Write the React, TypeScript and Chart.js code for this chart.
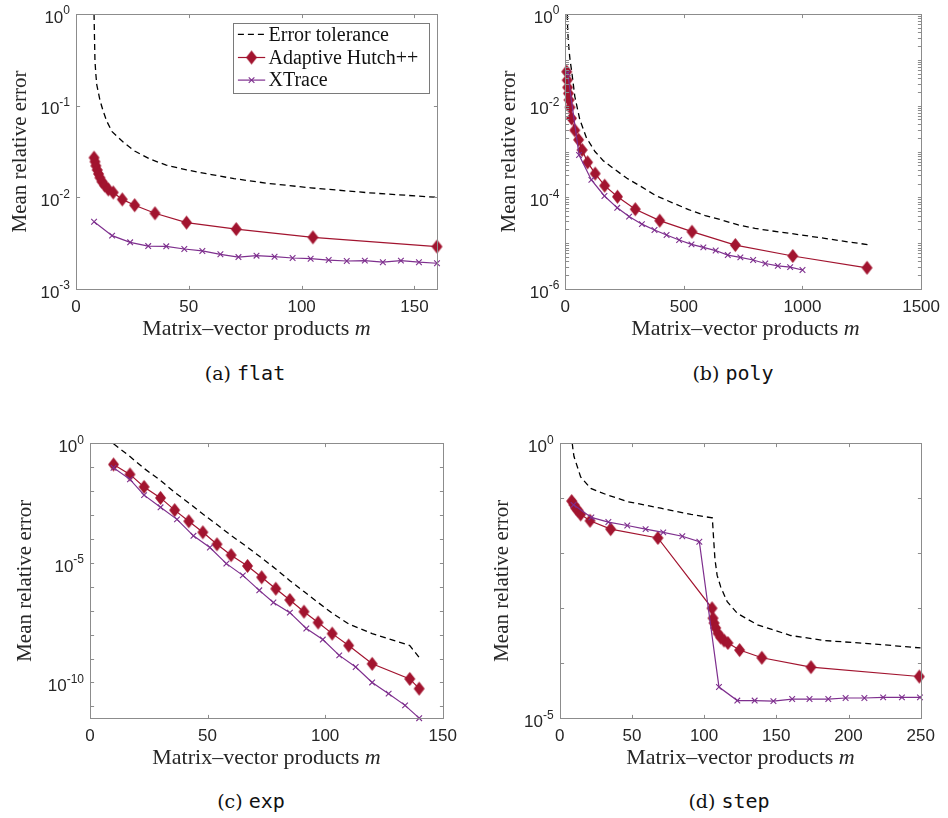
import React, { useEffect, useRef } from 'react';
import { Chart, registerables } from 'chart.js';

Chart.register(...registerables);

const RED = '#A2142F';
const PURPLE = '#7E2F8E';
const AXIS = '#8c8c8c';
const TEXT = '#262626';
const SANS = '"Liberation Sans", Arial, Helvetica, sans-serif';
const SERIF = '"Liberation Serif", "Times New Roman", serif';

const yTitle = 'Mean relative error';
const xTitle = 'Matrix–vector products';
const legendLabels = ['Error tolerance', 'Adaptive Hutch++', 'XTrace'];

// ---------- (a) flat ----------
const flatTolM = [8, 8.2, 8.4, 8.8, 9.2, 10.6, 12, 13.6, 16, 21, 26, 33, 40, 49, 60, 70, 85, 104, 130, 160];
const flatTolV = [1, 0.55, 0.31, 0.22, 0.17, 0.115, 0.088, 0.068, 0.052, 0.04, 0.032, 0.026, 0.0225, 0.0199, 0.0177, 0.016, 0.0142, 0.0127, 0.0112, 0.01];
const flatHutchM = [8, 8.4, 8.8, 9.4, 10, 10.6, 11.5, 12.7, 14.3, 16.5, 20.5, 26, 35, 49, 71, 105, 160];
const flatHutchV = [0.0271, 0.0245, 0.0221, 0.0199, 0.018, 0.0164, 0.0148, 0.0135, 0.0122, 0.0113, 0.0095, 0.0082, 0.0067, 0.0053, 0.0045, 0.00366, 0.0029];
const flatXtM = [8, 16, 24, 32, 40, 48, 56, 64, 72, 80, 88, 96, 104, 112, 120, 128, 136, 144, 152, 160];
const flatXtV = [0.00542, 0.00382, 0.00323, 0.00294, 0.00292, 0.00273, 0.0026, 0.00239, 0.00223, 0.00231, 0.00225, 0.00218, 0.00214, 0.00207, 0.00202, 0.00204, 0.00196, 0.00204, 0.00196, 0.00191];

// ---------- (b) poly ----------
const polyTolM = [8.4, 10, 12.5, 16, 20, 27, 40, 61, 89, 125, 160, 205, 260, 313, 380, 452, 520, 590, 660, 729, 800, 868, 940, 1006, 1100, 1190, 1276];
const polyTolV = [1, 0.45, 0.27, 0.16, 0.1, 0.056, 0.016, 0.005, 0.002, 0.001, 6.3e-4, 4.2e-4, 2.6e-4, 1.8e-4, 1.1e-4, 7.6e-5, 5.4e-5, 4.0e-5, 3.2e-5, 2.5e-5, 2.1e-5, 1.86e-5, 1.66e-5, 1.48e-5, 1.26e-5, 1.07e-5, 9.3e-6];
const polyHutchM = [6, 8, 10, 13, 16, 20, 26, 40, 56, 71, 94, 126, 166, 220, 295, 398, 534, 717, 959, 1272];
const polyHutchV = [0.055, 0.036, 0.025, 0.0185, 0.0133, 0.0092, 0.0053, 0.0029, 0.0018, 0.00108, 5.8e-4, 3.3e-4, 1.8e-4, 1.03e-4, 5.5e-5, 3.1e-5, 1.78e-5, 9.1e-6, 5.25e-6, 2.9e-6];
const polyXtM = [10, 58, 110, 165, 219, 269, 323, 376, 427, 480, 532, 582, 634, 685, 738, 792, 843, 896, 948, 1000];
const polyXtV = [0.051, 8.4e-4, 2.4e-4, 1.07e-4, 5.9e-5, 3.8e-5, 2.6e-5, 1.94e-5, 1.51e-5, 1.17e-5, 9.4e-6, 8.1e-6, 6.9e-6, 5.5e-6, 4.9e-6, 4.3e-6, 3.6e-6, 3.2e-6, 3.0e-6, 2.6e-6];

// ---------- (c) exp ----------
const expTolM = [10, 17, 23, 30, 36, 42, 48, 54, 60, 67, 73, 79, 85, 91, 97, 103, 110, 120, 136, 140];
const expTolV = [0.95, 0.28, 0.089, 0.028, 0.0089, 0.0032, 0.0011, 4.0e-4, 1.4e-4, 4.5e-5, 1.6e-5, 5.6e-6, 1.8e-6, 6.3e-7, 2.2e-7, 7.9e-8, 2.8e-8, 1.1e-8, 3.5e-9, 1.1e-9];
const expHutchM = [10, 17, 23, 30, 36, 42, 48, 54, 60, 67, 73, 79, 85, 91, 97, 103, 110, 120, 136, 140];
const expHutchV = [0.13, 0.05, 0.015, 0.0052, 0.0016, 5.5e-4, 1.9e-4, 6.0e-5, 2.1e-5, 7.4e-6, 2.5e-6, 8.3e-7, 2.8e-7, 9.1e-8, 3.2e-8, 1.1e-8, 3.5e-9, 6.0e-10, 1.4e-10, 5.5e-11];
const expXtM = [10, 17, 23, 30, 37, 44, 51, 58, 65, 72, 78, 85, 92, 99, 106, 113, 120, 127, 134, 140];
const expXtV = [0.095, 0.031, 0.0068, 0.0021, 6.6e-4, 1.35e-4, 4.4e-5, 9.3e-6, 3.0e-6, 7.1e-7, 2.2e-7, 8.3e-8, 1.8e-8, 6.2e-9, 1.35e-9, 4.4e-10, 1.0e-10, 3.4e-11, 1.1e-11, 3.2e-12];

// ---------- (d) step ----------
const stepTolM = [8.7, 9.2, 9.9, 14.5, 21.5, 33, 47, 70, 91, 105.7, 106.5, 107.5, 109, 111.5, 116, 123, 137, 160, 183, 218, 250];
const stepTolV = [1, 0.76, 0.575, 0.245, 0.151, 0.115, 0.087, 0.066, 0.051, 0.044, 0.02, 0.0079, 0.004, 0.00245, 0.00132, 8.1e-4, 5.0e-4, 3.2e-4, 2.6e-4, 2.24e-4, 1.9e-4];
const stepHutchM = [8.3, 9.9, 11.1, 12.7, 14.5, 21, 35.3, 68, 105.5, 106.2, 106.9, 108, 109.6, 111.5, 113.8, 116.5, 124.6, 140, 174, 249];
const stepHutchV = [0.089, 0.076, 0.066, 0.06, 0.051, 0.039, 0.0275, 0.019, 0.001, 6.6e-4, 5.4e-4, 4.4e-4, 3.5e-4, 2.95e-4, 2.6e-4, 2.34e-4, 1.74e-4, 1.26e-4, 8.5e-5, 5.75e-5];
const stepXtM = [9.6, 21.9, 33.7, 46.8, 59.5, 71.7, 84.9, 96.7, 110.3, 123, 135, 148, 161, 173, 186, 198, 211, 224, 237, 249.5];
const stepXtV = [0.076, 0.045, 0.037, 0.032, 0.0275, 0.024, 0.0204, 0.0162, 3.7e-5, 2.1e-5, 2.1e-5, 2.05e-5, 2.24e-5, 2.24e-5, 2.24e-5, 2.34e-5, 2.34e-5, 2.4e-5, 2.4e-5, 2.4e-5];

// ---------- axes ----------
const flatX = { max: 160, step: 50 };
const polyX = { max: 1500, step: 500 };
const expX = { max: 150, step: 50 };
const stepX = { max: 250, step: 50 };
const flatYLabels = [0, -1, -2, -3];
const polyYLabels = [0, -2, -4, -6];
const expYLabels = [0, -5, -10];
const stepYLabels = [0, -5];

const captions = [
  { tag: '(a)', name: 'flat' },
  { tag: '(b)', name: 'poly' },
  { tag: '(c)', name: 'exp' },
  { tag: '(d)', name: 'step' },
];

type PanelCfg = {
  left: number; top: number; w: number; h: number;
  area: { l: number; t: number; r: number; b: number };
  titleCx: number;
  xMax: number; xStep: number;
  yMinExp: number; tickExps: number[]; labelExps: number[]; minor: boolean;
  tolM: number[]; tolV: number[]; hM: number[]; hV: number[]; xM: number[]; xV: number[];
  legend: boolean;
};

const range = (a: number, b: number) => { const r: number[] = []; for (let i = a; i >= b; i--) r.push(i); return r; };

const panels: PanelCfg[] = [
  { left: 0, top: 0, w: 474, h: 320, area: { l: 76, t: 14, r: 437, b: 289 }, titleCx: 20,
    xMax: flatX.max, xStep: flatX.step, yMinExp: -3, tickExps: range(0, -3), labelExps: flatYLabels, minor: false,
    tolM: flatTolM, tolV: flatTolV, hM: flatHutchM, hV: flatHutchV, xM: flatXtM, xV: flatXtV, legend: true },
  { left: 474, top: 0, w: 474, h: 320, area: { l: 91.3, t: 14, r: 452, b: 289 }, titleCx: 35,
    xMax: polyX.max, xStep: polyX.step, yMinExp: -6, tickExps: range(0, -6), labelExps: polyYLabels, minor: true,
    tolM: polyTolM, tolV: polyTolV, hM: polyHutchM, hV: polyHutchV, xM: polyXtM, xV: polyXtV, legend: false },
  { left: 0, top: 420, w: 474, h: 330, area: { l: 90, t: 23.3, r: 442.7, b: 298.3 }, titleCx: 25,
    xMax: expX.max, xStep: expX.step, yMinExp: -11.5, tickExps: range(0, -11), labelExps: expYLabels, minor: false,
    tolM: expTolM, tolV: expTolV, hM: expHutchM, hV: expHutchV, xM: expXtM, xV: expXtV, legend: false },
  { left: 474, top: 420, w: 474, h: 330, area: { l: 85.7, t: 23.3, r: 446.7, b: 298.3 }, titleCx: 28,
    xMax: stepX.max, xStep: stepX.step, yMinExp: -5, tickExps: range(0, -5), labelExps: stepYLabels, minor: false,
    tolM: stepTolM, tolV: stepTolV, hM: stepHutchM, hV: stepHutchV, xM: stepXtM, xV: stepXtV, legend: false },
];

function makeDiamond(w: number, h: number, color: string) {
  const c = document.createElement('canvas');
  c.width = w + 2; c.height = h + 2;
  const ctx = c.getContext('2d')!;
  ctx.fillStyle = color;
  ctx.beginPath();
  ctx.moveTo((w + 2) / 2, 1);
  ctx.lineTo(w + 1, (h + 2) / 2);
  ctx.lineTo((w + 2) / 2, h + 1);
  ctx.lineTo(1, (h + 2) / 2);
  ctx.closePath();
  ctx.fill();
  return c;
}

function drawCross(ctx: CanvasRenderingContext2D, x: number, y: number, r: number, color: string) {
  const d = r * 0.707;
  ctx.save();
  ctx.strokeStyle = color; ctx.lineWidth = 1.1;
  ctx.beginPath();
  ctx.moveTo(x - d, y - d); ctx.lineTo(x + d, y + d);
  ctx.moveTo(x - d, y + d); ctx.lineTo(x + d, y - d);
  ctx.stroke();
  ctx.restore();
}

function Panel({ cfg }: { cfg: PanelCfg }) {
  const ref = useRef<HTMLCanvasElement>(null);
  useEffect(() => {
    const canvas = ref.current!;
    const diamond = makeDiamond(11, 14, RED);
    const mk = (m: number[], v: number[]) => m.map((x, i) => ({ x, y: v[i] }));
    const TL = 3.6;
    const frame = {
      id: 'frame',
      afterDatasetsDraw(chart: any) {
        const { ctx, chartArea: a, scales } = chart;
        const L = Math.round(a.left) + 0.5, R = Math.round(a.right) + 0.5;
        const T = Math.round(a.top) + 0.5, B = Math.round(a.bottom) + 0.5;
        ctx.save();
        ctx.strokeStyle = AXIS; ctx.lineWidth = 1;
        ctx.beginPath();
        for (const t of scales.x.ticks) {
          const px = Math.round(scales.x.getPixelForValue(t.value)) + 0.5;
          ctx.moveTo(px, B); ctx.lineTo(px, B - TL);
          ctx.moveTo(px, T); ctx.lineTo(px, T + TL);
        }
        const yv: number[] = cfg.tickExps.map((e) => Math.pow(10, e));
        if (cfg.minor) {
          for (const e of cfg.tickExps) for (let k = 2; k <= 9; k++) {
            const v = k * Math.pow(10, e);
            if (v < 1) yv.push(v);
          }
        }
        for (const v of yv) {
          const py = Math.round(scales.y.getPixelForValue(v)) + 0.5;
          ctx.moveTo(L, py); ctx.lineTo(L + TL, py);
          ctx.moveTo(R, py); ctx.lineTo(R - TL, py);
        }
        ctx.stroke();
        ctx.strokeRect(L, T, R - L, B - T);
        // y tick labels with superscripts
        ctx.fillStyle = TEXT;
        ctx.textAlign = 'right';
        ctx.textBaseline = 'middle';
        for (const e of cfg.labelExps) {
          const py = scales.y.getPixelForValue(Math.pow(10, e));
          const es = String(e);
          ctx.font = `12px ${SANS}`;
          const we = ctx.measureText(es).width;
          const xr = a.left - 6;
          ctx.fillText(es, xr, py - 3);
          ctx.font = `17px ${SANS}`;
          ctx.fillText('10', xr - we, py + 4);
        }
        ctx.restore();
      },
      afterDraw(chart: any) {
        if (!cfg.legend) return;
        const { ctx, chartArea: a } = chart;
        const bw = 196, bh = 70;
        const bx = Math.round(a.right - 8 - bw) + 0.5, by = Math.round(a.top + 8.7) + 0.5;
        ctx.save();
        ctx.fillStyle = '#fff';
        ctx.fillRect(bx, by, bw, bh);
        ctx.strokeStyle = '#7a7a7a'; ctx.lineWidth = 1;
        ctx.strokeRect(bx, by, bw, bh);
        const rows = [by + 10.8, by + 34, by + 56.6];
        const x1 = bx + 4.4, x2 = bx + 31.7, xm = (x1 + x2) / 2;
        ctx.strokeStyle = '#000'; ctx.lineWidth = 1.3; ctx.setLineDash([6, 4]);
        ctx.beginPath(); ctx.moveTo(x1, rows[0]); ctx.lineTo(x2, rows[0]); ctx.stroke();
        ctx.setLineDash([]);
        ctx.strokeStyle = RED; ctx.lineWidth = 1.2;
        ctx.beginPath(); ctx.moveTo(x1, rows[1]); ctx.lineTo(x2, rows[1]); ctx.stroke();
        ctx.drawImage(diamond, xm - diamond.width / 2, rows[1] - diamond.height / 2);
        ctx.strokeStyle = PURPLE;
        ctx.beginPath(); ctx.moveTo(x1, rows[2]); ctx.lineTo(x2, rows[2]); ctx.stroke();
        drawCross(ctx, xm, rows[2], 4, PURPLE);
        ctx.fillStyle = '#111';
        ctx.font = `20px ${SERIF}`;
        ctx.textAlign = 'left'; ctx.textBaseline = 'middle';
        legendLabels.forEach((t, i) => ctx.fillText(t, bx + 35, rows[i] + 1));
        ctx.restore();
      },
    };

    const chart = new Chart(canvas, {
      type: 'line',
      data: {
        datasets: [
          { label: legendLabels[0], data: mk(cfg.tolM, cfg.tolV), borderColor: '#000', borderWidth: 1.3,
            borderDash: [6, 4], pointRadius: 0, fill: false, order: 2 } as any,
          { label: legendLabels[1], data: mk(cfg.hM, cfg.hV), borderColor: RED, backgroundColor: RED,
            borderWidth: 1.2, pointStyle: diamond, pointRadius: 6, order: 1, clip: false } as any,
          { label: legendLabels[2], data: mk(cfg.xM, cfg.xV), borderColor: PURPLE, backgroundColor: PURPLE,
            borderWidth: 1.2, pointStyle: 'crossRot', pointRadius: 4, pointBorderWidth: 1.1, order: 0, clip: false } as any,
        ],
      },
      options: {
        responsive: false,
        animation: false,
        devicePixelRatio: 1,
        events: [],
        layout: { padding: { left: 0, top: cfg.area.t, right: cfg.w - cfg.area.r, bottom: 0 } },
        plugins: { legend: { display: false }, tooltip: { enabled: false }, title: { display: false } },
        scales: {
          x: {
            type: 'linear', min: 0, max: cfg.xMax,
            ticks: { stepSize: cfg.xStep, includeBounds: false, maxRotation: 0, autoSkip: false,
              callback: (v: any) => String(v),
              font: { family: SANS, size: 17 }, color: TEXT, padding: 8 },
            grid: { display: false, drawTicks: false },
            border: { display: false },
            afterFit: (s: any) => { s.height = cfg.h - cfg.area.b; },
          },
          y: {
            type: 'logarithmic', min: Math.pow(10, cfg.yMinExp), max: 1,
            afterBuildTicks: (s: any) => { s.ticks = cfg.tickExps.map((e) => ({ value: Math.pow(10, e) })); },
            ticks: { display: false },
            grid: { display: false, drawTicks: false },
            border: { display: false },
            title: { display: true, text: yTitle, color: TEXT, font: { family: SERIF, size: 21, lineHeight: 1.2 },
              padding: { top: cfg.titleCx - 12.6, bottom: 0 } },
            afterFit: (s: any) => { s.width = cfg.area.l; },
          },
        },
      } as any,
      plugins: [frame],
    });
    return () => chart.destroy();
  }, [cfg]);
  return (
    <canvas ref={ref} width={cfg.w} height={cfg.h}
      style={{ position: 'absolute', left: cfg.left, top: cfg.top, width: cfg.w, height: cfg.h }} />
  );
}

const xTitlePos = [[256.5, 328], [745.5, 328], [266.5, 757], [740.5, 757]];
const captionPos = [[245, 373], [733, 373], [251, 801], [729, 801]];

export default function App() {
  return (
    <div style={{ position: 'absolute', left: 0, top: 0, width: 948, height: 818, background: '#fff', overflow: 'hidden' }}>
      {panels.map((p, i) => <Panel key={i} cfg={p} />)}
      {xTitlePos.map(([cx, cy], i) => (
        <div key={'xt' + i} style={{ position: 'absolute', left: cx, top: cy - 12, transform: 'translateX(-50%)',
          whiteSpace: 'nowrap', fontFamily: SERIF, fontSize: 22, lineHeight: '24px', color: TEXT }}>
          {xTitle} <i>m</i>
        </div>
      ))}
      {captionPos.map(([cx, cy], i) => (
        <div key={'cp' + i} style={{ position: 'absolute', left: cx, top: cy - 12, transform: 'translateX(-50%)',
          whiteSpace: 'nowrap', fontFamily: '"DejaVu Serif", serif', fontSize: 19, lineHeight: '24px', color: '#111' }}>
          {captions[i].tag}{' '}
          <span style={{ fontFamily: '"DejaVu Sans Mono", monospace', fontSize: 20 }}>{captions[i].name}</span>
        </div>
      ))}
    </div>
  );
}
